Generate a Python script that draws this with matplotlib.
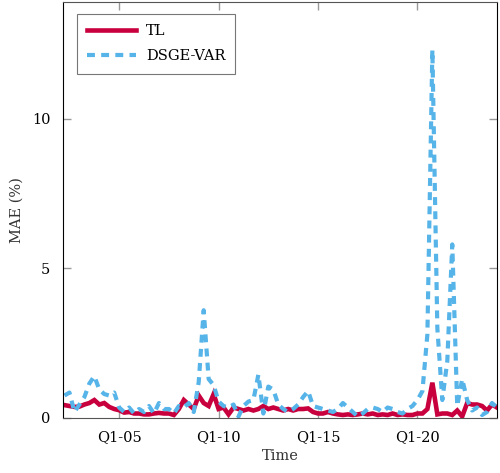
import numpy as np
import matplotlib
matplotlib.use('Agg')
import matplotlib.pyplot as plt

# quarterly mean absolute error, Q2-02 .. Q1-24
tl = [0.43, 0.40, 0.37, 0.38, 0.45, 0.50, 0.60, 0.45, 0.50, 0.37,
      0.30, 0.26, 0.18, 0.20, 0.15, 0.15, 0.12, 0.12, 0.15, 0.17,
      0.15, 0.15, 0.10, 0.30, 0.60, 0.45, 0.30, 0.75, 0.50, 0.40,
      0.80, 0.30, 0.35, 0.12, 0.35, 0.30, 0.25, 0.30, 0.25, 0.30,
      0.40, 0.30, 0.35, 0.30, 0.25, 0.30, 0.25, 0.30, 0.30, 0.32,
      0.20, 0.15, 0.15, 0.20, 0.15, 0.12, 0.10, 0.12, 0.10, 0.12,
      0.15, 0.12, 0.15, 0.10, 0.12, 0.10, 0.15, 0.10, 0.12, 0.10,
      0.10, 0.15, 0.15, 0.30, 1.18, 0.12, 0.15, 0.15, 0.10, 0.25,
      0.05, 0.50, 0.45, 0.45, 0.40, 0.25, 0.45, 0.35]
dsge_var = [0.75, 0.85, 0.20, 0.45, 0.70, 1.15, 1.40, 0.95, 0.80, 0.75,
            0.85, 0.35, 0.20, 0.35, 0.15, 0.30, 0.20, 0.40, 0.15, 0.50,
            0.30, 0.30, 0.15, 0.40, 0.35, 0.50, 0.20, 1.20, 3.60, 1.30,
            1.10, 0.55, 0.40, 0.35, 0.45, 0.05, 0.40, 0.55, 0.60, 1.45,
            0.15, 1.05, 0.95, 0.45, 0.30, 0.20, 0.30, 0.45, 0.70, 0.90,
            0.40, 0.35, 0.30, 0.25, 0.20, 0.30, 0.50, 0.35, 0.20, 0.05,
            0.15, 0.30, 0.35, 0.30, 0.20, 0.35, 0.30, 0.20, 0.15, 0.30,
            0.40, 0.60, 0.90, 2.80, 12.3, 3.00, 0.60, 1.90, 5.80, 0.40,
            1.30, 0.60, 0.25, 0.35, 0.10, 0.20, 0.50, 0.35]
tick_pos = [11, 31, 51, 71]
tick_labels = ['Q1-05', 'Q1-10', 'Q1-15', 'Q1-20']

plt.rcParams['font.family'] = 'DejaVu Serif'

fig = plt.figure(figsize=(5, 4.73), dpi=100)
ax = fig.add_axes([0.126, 0.1163, 0.868, 0.8795])

t = np.arange(len(tl))
ax.plot(t, tl, color='#c8003e', lw=3.3, label='TL', solid_joinstyle='miter')
ax.plot(t, dsge_var, color='#56b4e9', lw=3, dashes=(1.9, 1.5), label='DSGE-VAR')

ax.set_xlim(-0.3, 87)
ax.set_ylim(0, 13.9)
ax.set_xticks(tick_pos)
ax.set_xticklabels(tick_labels)
ax.set_yticks([0, 5, 10])
ax.tick_params(direction='in', length=6, width=1, color='#999999',
               labelsize=10.5, top=True, right=True, pad=9)
for side in ['left', 'right']:
    ax.spines[side].set_color('black')
for side in ['top', 'bottom']:
    ax.spines[side].set_color('#555555')

ax.set_xlabel('Time', fontsize=10.5, color='#333333', labelpad=3)
ax.set_ylabel('MAE (%)', fontsize=10.5, color='#333333', labelpad=6)

leg = ax.legend(loc='upper left', bbox_to_anchor=(0.016, 0.988), fontsize=10.5,
                handlelength=3.3, handletextpad=0.7, fancybox=False, framealpha=1,
                edgecolor='#777777', borderpad=0.7, labelspacing=0.75)
leg.get_frame().set_linewidth(0.8)

plt.savefig('out.png')
